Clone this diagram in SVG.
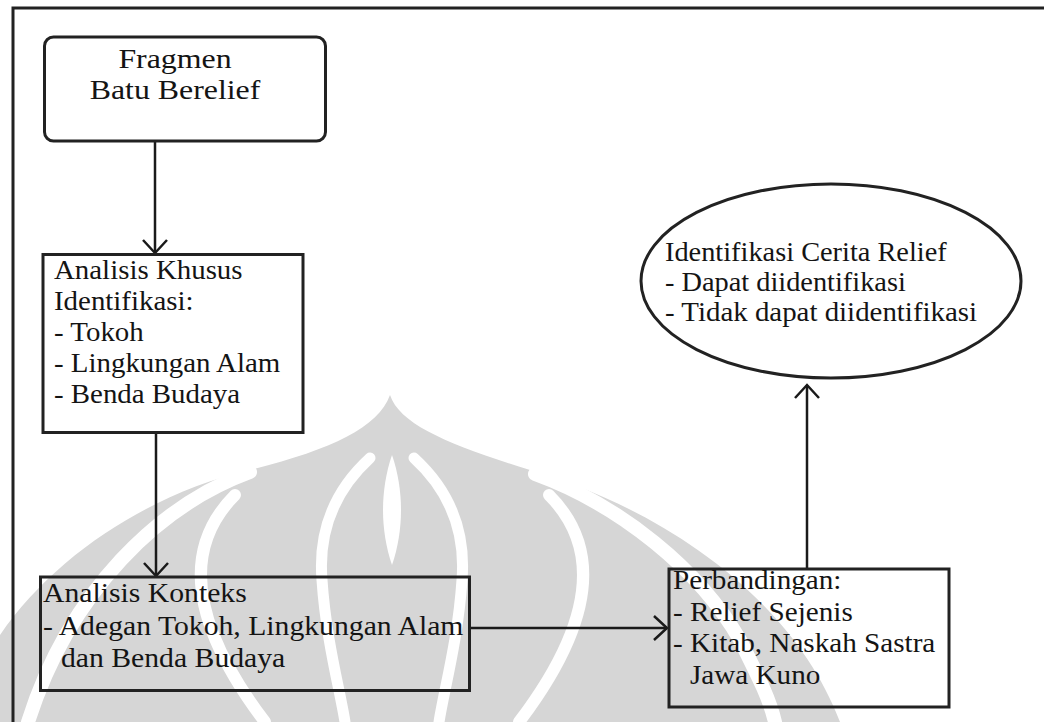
<svg xmlns="http://www.w3.org/2000/svg" width="1044" height="722" viewBox="0 0 1044 722">
<defs>
<style>
.t{font-family:"Liberation Serif","DejaVu Serif",serif;font-size:27px;fill:#141414}
.box{fill:none;stroke:#222;stroke-width:3}
.con{fill:none;stroke:#1a1a1a;stroke-width:2.5}
.wm{fill:#d6d6d6}
.wb{fill:none;stroke:#fff;stroke-linecap:round}
</style>
<marker id="arr" markerUnits="userSpaceOnUse" markerWidth="30" markerHeight="30" viewBox="-15 -15 30 30" refX="0" refY="0" orient="auto" overflow="visible">
<path d="M-13,-12 L0,0 L-13,12" fill="none" stroke="#1a1a1a" stroke-width="2.5"/>
</marker>
</defs>
<rect width="1044" height="722" fill="#fff"/>
<g id="watermark">
<path class="wm" d="M390,395 C400,425 450,445 530,470 C650,505 790,590 840,722 L-40,722 C-10,600 120,500 250,470 C330,450 378,428 390,395 Z"/>
<path class="wb" stroke-width="14" d="M250,472 C160,505 70,590 28,722"/>
<path class="wb" stroke-width="14" d="M535,474 C620,505 700,570 740,640 C760,680 770,700 775,722"/>
<path class="wb" stroke-width="12" d="M235,495 C190,540 180,610 265,722"/>
<path class="wb" stroke-width="12" d="M549,495 C594,540 604,610 519,722"/>
<path class="wb" stroke-width="11" d="M370,458 C335,490 318,530 322,580 C326,640 340,690 345,722"/>
<path class="wb" stroke-width="11" d="M414,458 C449,490 466,530 462,580 C458,640 444,690 439,722"/>
<path fill="#fff" d="M392,455 C404,490 404,530 392,565 C380,530 380,490 392,455 Z"/>
</g>
<path id="frame" d="M13,722 L13,8 L1044,8" fill="none" stroke="#222" stroke-width="3"/>
<g id="connectors">
<line class="con" x1="155" y1="142" x2="155" y2="253" marker-end="url(#arr)"/>
<line class="con" x1="156" y1="432" x2="156" y2="576" marker-end="url(#arr)"/>
<line class="con" x1="470" y1="628" x2="667" y2="628" marker-end="url(#arr)"/>
<line class="con" x1="807" y1="568" x2="807" y2="385" marker-end="url(#arr)"/>
</g>
<g id="n-fragmen">
<rect class="box" x="44.5" y="37" width="281" height="104" rx="9"/>
<text class="t" text-anchor="middle" transform="translate(175,68) scale(1.18,1)">Fragmen</text>
<text class="t" text-anchor="middle" transform="translate(175,98.5) scale(1.18,1)">Batu Berelief</text>
</g>
<g id="n-khusus">
<rect class="box" x="43" y="254.5" width="260" height="178"/>
<text class="t" transform="translate(54,279) scale(1.07,1)">Analisis Khusus</text>
<text class="t" transform="translate(54,309.5) scale(1.07,1)">Identifikasi:</text>
<text class="t" transform="translate(54,341) scale(1.07,1)">- Tokoh</text>
<text class="t" transform="translate(54,372) scale(1.07,1)">- Lingkungan Alam</text>
<text class="t" transform="translate(54,403) scale(1.07,1)">- Benda Budaya</text>
</g>
<g id="n-konteks">
<rect class="box" x="40.5" y="577" width="429" height="113.5"/>
<text class="t" transform="translate(43,602) scale(1.1,1)">Analisis Konteks</text>
<text class="t" transform="translate(43,635) scale(1.1,1)">- Adegan Tokoh, Lingkungan Alam</text>
<text class="t" transform="translate(61,667) scale(1.1,1)">dan Benda Budaya</text>
</g>
<g id="n-perbandingan">
<rect class="box" x="669" y="569" width="280" height="138"/>
<text class="t" transform="translate(673,589) scale(1.08,1)">Perbandingan:</text>
<text class="t" transform="translate(673,621) scale(1.08,1)">- Relief Sejenis</text>
<text class="t" transform="translate(673,652) scale(1.08,1)">- Kitab, Naskah Sastra</text>
<text class="t" transform="translate(690,684) scale(1.08,1)">Jawa Kuno</text>
</g>
<g id="n-identifikasi">
<ellipse class="box" cx="831" cy="281" rx="190" ry="97"/>
<text class="t" transform="translate(665,261) scale(1.05,1)">Identifikasi Cerita Relief</text>
<text class="t" transform="translate(665,291) scale(1.05,1)">- Dapat diidentifikasi</text>
<text class="t" transform="translate(665,321) scale(1.07,1)">- Tidak dapat diidentifikasi</text>
</g>
</svg>
